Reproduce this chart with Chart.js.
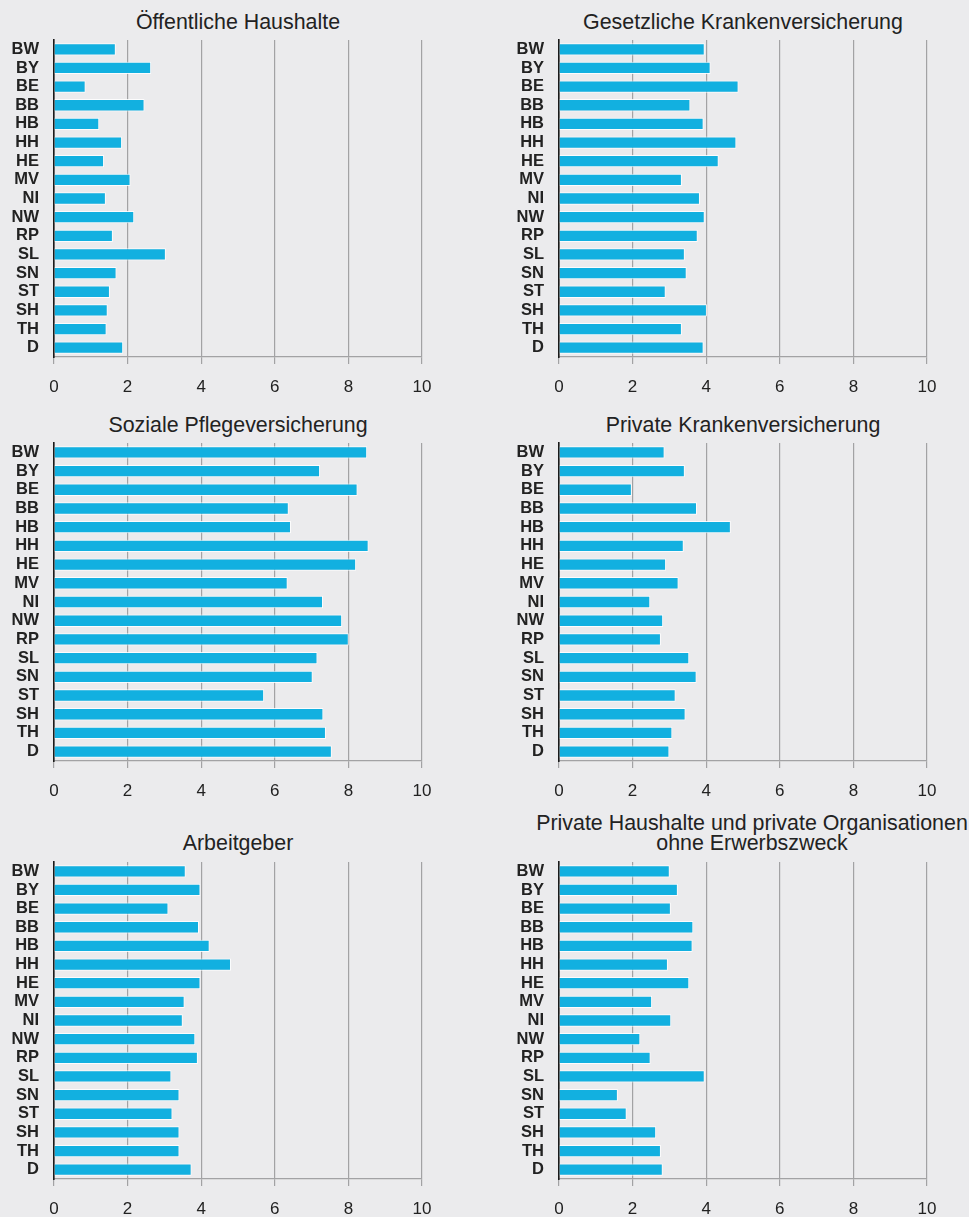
<!DOCTYPE html>
<html>
<head>
<meta charset="utf-8">
<script src="https://cdn.jsdelivr.net/npm/chart.js@4"></script>
<style>
  html, body { margin: 0; padding: 0; background: #ebebed; }
  body { width: 969px; height: 1217px; position: relative; overflow: hidden; }
  .panel { position: absolute; }
  .title {
    position: absolute;
    font-family: 'Liberation Sans', Arial, Helvetica, sans-serif;
    font-size: 21.4px;
    line-height: 20px;
    color: #222;
    text-align: center;
    white-space: nowrap;
  }
</style>
</head>
<body>
<div class="title" style="left:38px;top:12px;width:400px">Öffentliche Haushalte</div>
<div class="title" style="left:543px;top:12px;width:400px">Gesetzliche Krankenversicherung</div>
<div class="title" style="left:38px;top:415px;width:400px">Soziale Pflegeversicherung</div>
<div class="title" style="left:543px;top:415px;width:400px">Private Krankenversicherung</div>
<div class="title" style="left:38px;top:833px;width:400px">Arbeitgeber</div>
<div class="title" style="left:532px;top:813px;width:440px">Private Haushalte und private Organisationen<br>ohne Erwerbszweck</div>

<div class="panel" style="left:0;top:0;width:480px;height:400px"><canvas id="c1"></canvas></div>
<div class="panel" style="left:480px;top:0;width:489px;height:400px"><canvas id="c2"></canvas></div>
<div class="panel" style="left:0;top:400px;width:480px;height:400px"><canvas id="c3"></canvas></div>
<div class="panel" style="left:480px;top:400px;width:489px;height:400px"><canvas id="c4"></canvas></div>
<div class="panel" style="left:0;top:800px;width:480px;height:417px"><canvas id="c5"></canvas></div>
<div class="panel" style="left:480px;top:800px;width:489px;height:417px"><canvas id="c6"></canvas></div>
<script>
// Bundesländer
const states = ['BW', 'BY', 'BE', 'BB', 'HB', 'HH', 'HE', 'MV', 'NI', 'NW', 'RP', 'SL', 'SN', 'ST', 'SH', 'TH', 'D'];
const xTicks = [0, 2, 4, 6, 8, 10];

// values per Ausgabenträger
const oeffentlicheHaushalte = [1.68, 2.64, 0.86, 2.46, 1.23, 1.85, 1.36, 2.08, 1.41, 2.18, 1.60, 3.04, 1.70, 1.52, 1.46, 1.43, 1.88];
const gesetzlicheKV = [3.96, 4.12, 4.88, 3.57, 3.93, 4.82, 4.34, 3.34, 3.83, 3.96, 3.77, 3.42, 3.47, 2.90, 4.02, 3.34, 3.93];
const sozialePV = [8.51, 7.23, 8.25, 6.38, 6.44, 8.55, 8.21, 6.35, 7.31, 7.83, 8.01, 7.16, 7.03, 5.71, 7.32, 7.39, 7.55];
const privateKV = [2.87, 3.42, 1.98, 3.75, 4.67, 3.39, 2.91, 3.25, 2.48, 2.83, 2.77, 3.54, 3.74, 3.17, 3.44, 3.08, 3.00];
const arbeitgeber = [3.58, 3.98, 3.11, 3.94, 4.23, 4.81, 3.98, 3.55, 3.50, 3.84, 3.91, 3.19, 3.41, 3.22, 3.41, 3.41, 3.74];
const privateHaushalte = [3.01, 3.23, 3.04, 3.65, 3.63, 2.96, 3.54, 2.53, 3.05, 2.21, 2.49, 3.96, 1.60, 1.84, 2.64, 2.77, 2.82];

const barColor = '#12b0e0';
const font = "'Liberation Sans', Arial, Helvetica, sans-serif";

// yWidth = room for state labels, top/bottom/right = layout padding
function makeChart(id, values, o) {
    new Chart(document.getElementById(id), {
        type: 'bar',
        data: {
            labels: states,
            datasets: [{
                data: values,
                backgroundColor: barColor,
                borderColor: 'rgba(255,255,255,0.85)',
                borderWidth: 1,
                borderSkipped: 'left',
                barPercentage: 0.66,
                categoryPercentage: 1
            }]
        },
        options: {
            indexAxis: 'y',
            responsive: true,
            maintainAspectRatio: false,
            animation: false,
            layout: {
                padding: { left: 0, right: o.right, top: o.top, bottom: o.bottom }
            },
            plugins: {
                legend: { display: false },
                tooltip: { enabled: false }
            },
            scales: {
                x: {
                    min: 0,
                    max: 10,
                    afterBuildTicks: function(scale) {
                        scale.ticks = xTicks.map(v => ({ value: v }));
                    },
                    afterFit: function(scale) { scale.height = 36; },
                    grid: {
                        color: '#a2a2a4',
                        lineWidth: 1.2,
                        tickLength: 7
                    },
                    border: { color: '#a2a2a4', width: 1.2 },
                    ticks: {
                        color: '#222',
                        padding: 13,
                        maxRotation: 0,
                        font: { family: font, size: 17 }
                    }
                },
                y: {
                    afterFit: function(scale) { scale.width = o.yWidth; },
                    grid: { display: false, drawTicks: false },
                    border: { color: '#1a1a1a', width: 1.6 },
                    ticks: {
                        color: '#222',
                        padding: 15,
                        autoSkip: false,
                        font: { family: font, size: 16.5, weight: 'bold' }
                    }
                }
            }
        }
    });
}

makeChart('c1', oeffentlicheHaushalte, { yWidth: 54, right: 58, top: 40, bottom: 7 });
makeChart('c2', gesetzlicheKV, { yWidth: 79, right: 42, top: 40, bottom: 7 });
makeChart('c3', sozialePV, { yWidth: 54, right: 58, top: 43, bottom: 3 });
makeChart('c4', privateKV, { yWidth: 79, right: 42, top: 43, bottom: 3 });
makeChart('c5', arbeitgeber, { yWidth: 54, right: 58, top: 62, bottom: 2 });
makeChart('c6', privateHaushalte, { yWidth: 79, right: 42, top: 62, bottom: 2 });
</script>
</body>
</html>
